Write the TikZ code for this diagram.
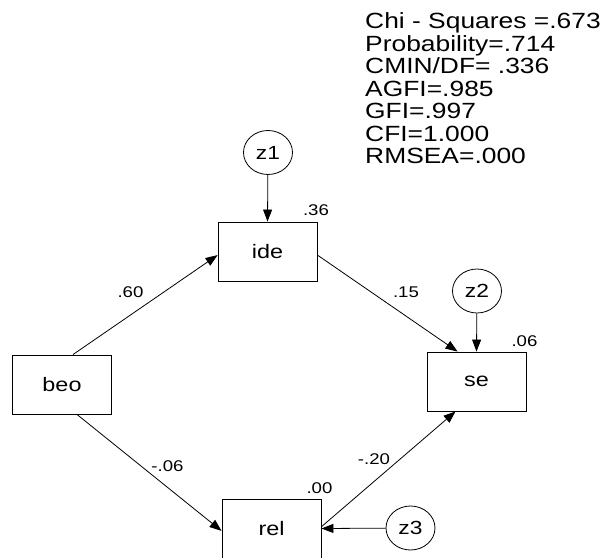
\documentclass[tikz,border=0pt]{standalone}
\usepackage{fontspec}
\setmainfont{Liberation Sans}
\newfontfamily\amosfont[FakeStretch=1.2]{Liberation Sans}
\usetikzlibrary{arrows.meta,calc,shapes.geometric}
\begin{document}
\begin{tikzpicture}[x=1pt,y=-1pt,
  var/.style={draw,line width=0.9pt,minimum width=99pt,minimum height=59pt,
    inner sep=0pt,font=\amosfont\fontsize{19.5}{19.5}\selectfont},
  err/.style={draw,ellipse,line width=0.8pt,minimum width=49pt,minimum height=44pt,
    inner sep=0pt,font=\amosfont\fontsize{19}{19}\selectfont},
  regpath/.style={line width=0.8pt,-{Triangle[length=12pt,width=9pt]}},
  coef/.style={inner sep=0pt,font=\amosfont\fontsize{15.5}{15.5}\selectfont}]
\useasboundingbox (0,0) rectangle (602,557);
\clip (0,0) rectangle (602,557);

% observed variables
\node[var] (beo) at (62,384.5)   {beo};
\node[var] (ide) at (267.5,251.5) {ide};
\node[var] (se)  at (476.5,381.5) {se};
\node[var] (rel) at (271.5,528.5) {rel};

% residuals
\node[err] (z1) at (268,152.5) {z1};
\node[err] (z2) at (477,291)   {z2};
\node[err] (z3) at (410.5,528) {z3};

% regression paths
\draw[regpath] ($(beo.north west)!0.61!(beo.north east)$) -- ($(ide.north west)!0.56!(ide.south west)$);
\draw[regpath] ($(beo.south west)!0.65!(beo.south east)$) -- ($(rel.north west)!0.54!(rel.south west)$);
\draw[regpath] ($(ide.north east)!0.56!(ide.south east)$) -- ($(se.north west)!0.31!(se.north east)$);
\draw[regpath] ($(rel.north east)!0.47!(rel.south east)$) -- ($(se.south west)!0.29!(se.south east)$);
\draw[regpath] (z1) -- (ide.north);
\draw[regpath] (z2) -- (se.north);
\draw[regpath] (z3) -- (rel.east);

% path coefficients
\node[coef] (cbi) at (130.5,292.5) {.60};
\node[coef] (cbr) at (167.5,466)   {-.06};
\node[coef] (cis) at (406,292.5)   {.15};
\node[coef] (crs) at (374,459)     {-.20};

% squared multiple correlations
\node[coef] (rid) at (316,210.5)   {.36};
\node[coef] (rse) at (524.5,341.5) {.06};
\node[coef] (rre) at (319.5,488.5) {.00};

% fit statistics
\node[anchor=north west,inner sep=0pt,align=left,
  font=\amosfont\fontsize{22}{22.5}\selectfont] (fit) at (365,12.5)
  {Chi - Squares =.673\\Probability=.714\\CMIN/DF= .336\\AGFI=.985\\GFI=.997\\CFI=1.000\\RMSEA=.000};
\end{tikzpicture}
\end{document}
